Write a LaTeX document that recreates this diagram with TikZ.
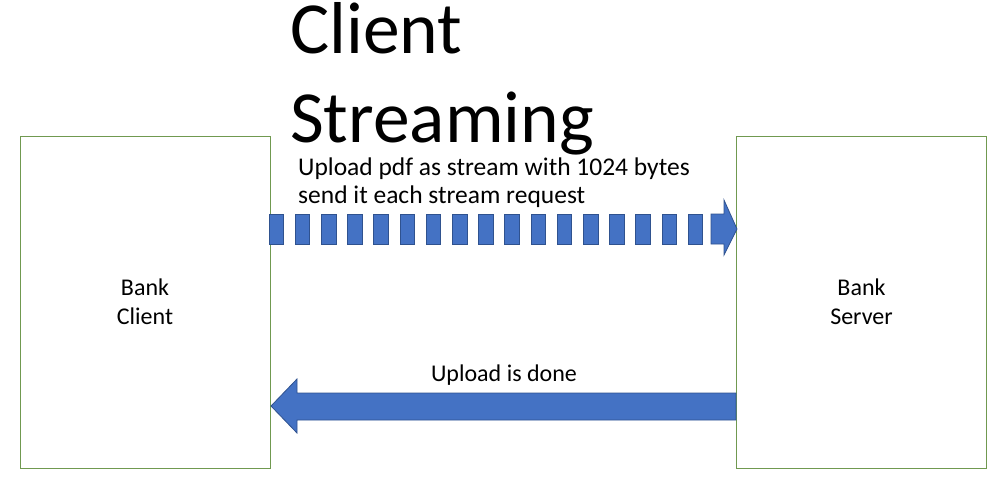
\documentclass[tikz,border=0pt]{standalone}
\usepackage{fontspec}
\setmainfont{Carlito}
\usetikzlibrary{positioning}
\definecolor{boxgreen}{RGB}{112,153,80}
\definecolor{arrowblue}{RGB}{68,114,196}
\definecolor{arrowedge}{RGB}{47,82,143}
\begin{document}
\begin{tikzpicture}[x=1pt,y=-1pt,line join=miter]
	\tikzset{box/.style={draw=boxgreen,line width=1pt,minimum width=250pt,minimum height=332pt,align=center,font=\fontsize{24}{29}\selectfont},
		blockarrow/.style={fill=arrowblue,draw=arrowedge,line width=0.8pt},
		label/.style={align=left,font=\fontsize{25.5}{28}\selectfont}}
	\useasboundingbox (0,0) rectangle (998,482);
	% the two parties
	\node[box] (client) at (145,302) {Bank\\Client};
	\node[box] (server) at (861.5,302) {Bank\\Server};
	% title
	\node[anchor=base west,align=left,inner sep=0pt,font=\fontsize{73.5}{89}\selectfont] (title) at (290,142) {Client\\Streaming};
	% stream of requests
	\foreach \i in {0,...,16}
		\fill[blockarrow] ({269+26.2*\i},214) rectangle +(14.5,30);
	\fill[blockarrow] (711,214)--(724,214)--(724,200)--(737,229)--(724,255)--(724,244)--(711,244)--cycle;
	\node[label,anchor=base west,inner sep=0pt] (request) at (298,203) {Upload pdf as stream with 1024 bytes\\send it each stream request};
	% response
	\fill[blockarrow] (271,406)--(297,379)--(297,393)--(736,393)--(736,420)--(297,420)--(297,433)--cycle;
	\node[label,anchor=base,inner sep=0pt,font=\fontsize{24}{28}\selectfont] (response) at (504,381) {Upload is done};
\end{tikzpicture}
\end{document}
